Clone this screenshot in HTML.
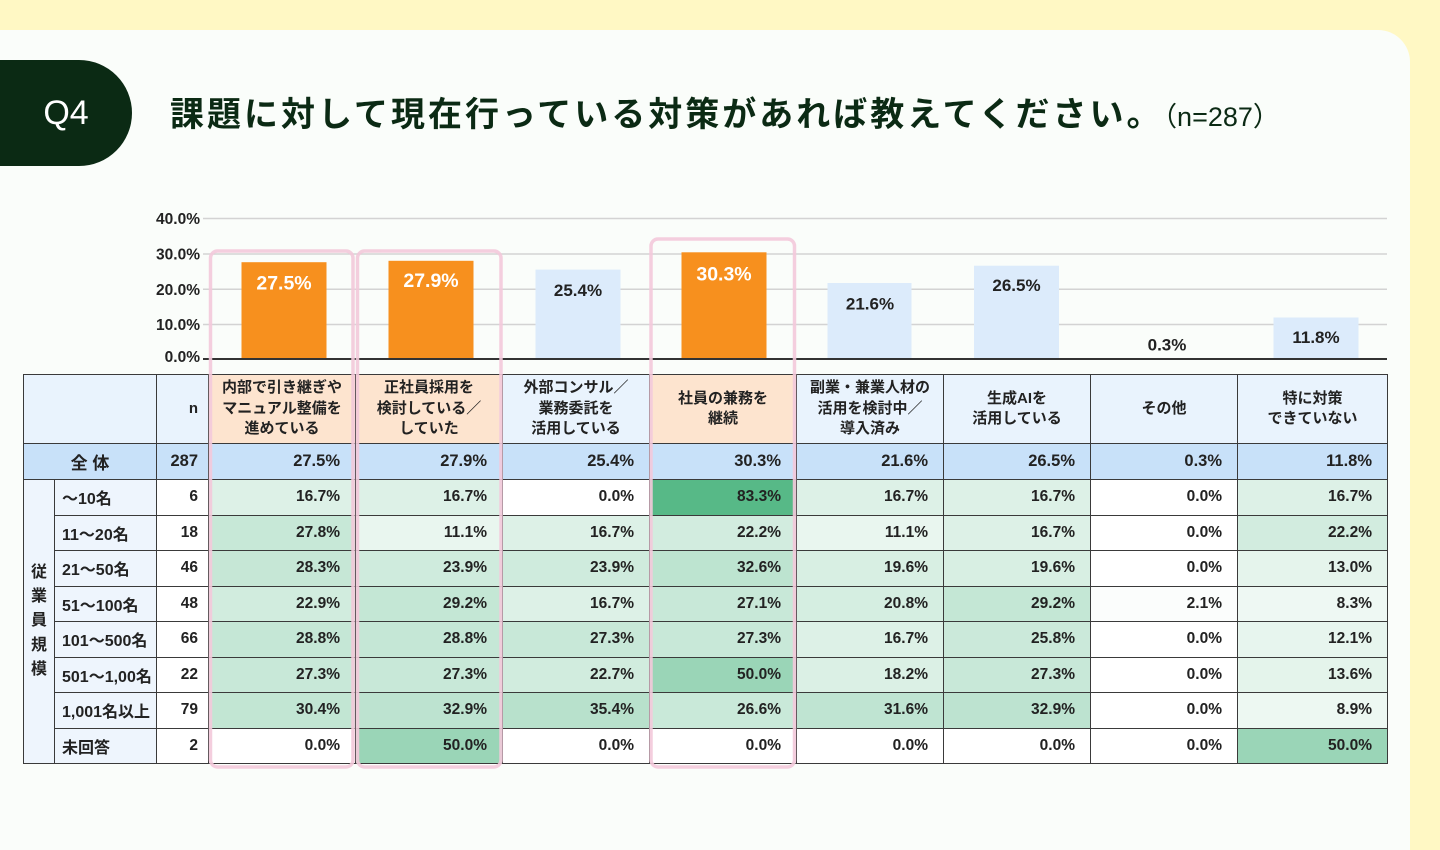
<!DOCTYPE html>
<html><head><meta charset="utf-8">
<style>
*{margin:0;padding:0;box-sizing:border-box}
html,body{width:1440px;height:798px;overflow:hidden;background:#fff8c4;font-family:"Liberation Sans","Noto Sans CJK JP",sans-serif;color:#222;}
.card{position:absolute;left:-40px;top:30px;width:1450px;height:820px;background:#fafdfa;border-radius:0 32px 0 0;}
.pill{position:absolute;left:-60px;top:60px;width:192px;height:106px;background:#0b2a14;border-radius:53px;}
.q{position:absolute;left:0;top:60px;width:132px;height:106px;line-height:106px;text-align:center;color:#fff;font-size:34px;font-family:"Liberation Sans",sans-serif;}
.title{position:absolute;left:170px;top:97px;font-family:"Liberation Sans","Noto Sans CJK JP",sans-serif;font-size:34px;line-height:36px;letter-spacing:3px;color:#0b2a14;font-weight:bold;white-space:nowrap;}
.title span{font-size:27px;font-weight:normal;letter-spacing:0;}
table{position:absolute;left:23px;top:374px;border-collapse:collapse;table-layout:fixed;width:1364px;}
td{border:1px solid #3a3a3a;font-weight:bold;font-size:15.5px;padding:0;overflow:hidden;white-space:nowrap;}
tr.h td{height:69px;text-align:center;font-size:15px;line-height:20.5px;}
tr.all td{height:36px;background:#c8e1f9;font-size:16.5px;}
tr.r td{height:35.5px;}
.hb{background:#e9f3fd;}
.ho{background:#fde4cf;}
.v{text-align:right;padding-right:15px;}
.n{text-align:right;padding-right:10px;background:#fff;}
.lab{background:#eef5fd;padding-left:7px;font-size:16px;}
.grp{background:#eef5fd;text-align:center;font-size:16px;line-height:24.3px;}
svg{position:absolute;left:0;top:0;}
</style></head><body>
<div class="card"></div>
<div class="pill"></div>
<div class="q">Q4</div>
<div class="title">課題に対して現在行っている対策があれば教えてください。<span>（n=287）</span></div>

<table>
<colgroup><col style="width:31px"><col style="width:102px"><col style="width:52px"><col style="width:147px"><col style="width:147px"><col style="width:147px"><col style="width:147px"><col style="width:147px"><col style="width:147px"><col style="width:147px"><col style="width:150px"></colgroup>
<tr class="h">
<td class="hb" colspan="2"></td>
<td class="hb" style="text-align:right;padding-right:10px;">n</td>
<td class="ho">内部で引き継ぎや<br>マニュアル整備を<br>進めている</td>
<td class="ho">正社員採用を<br>検討している／<br>していた</td>
<td class="hb">外部コンサル／<br>業務委託を<br>活用している</td>
<td class="ho">社員の兼務を<br>継続</td>
<td class="hb">副業・兼業人材の<br>活用を検討中／<br>導入済み</td>
<td class="hb">生成AIを<br>活用している</td>
<td class="hb">その他</td>
<td class="hb">特に対策<br>できていない</td>
</tr>
<tr class="all">
<td colspan="2" style="text-align:center;font-size:17px;">全 体</td>
<td style="text-align:right;padding-right:10px;">287</td>
<td class="v">27.5%</td><td class="v">27.9%</td><td class="v">25.4%</td><td class="v">30.3%</td><td class="v">21.6%</td><td class="v">26.5%</td><td class="v">0.3%</td><td class="v">11.8%</td>
</tr>
<tr class="r">
<td class="grp" rowspan="8">従<br>業<br>員<br>規<br>模</td>
<td class="lab">～10名</td><td class="n">6</td>
<td class="v" style="background:#ddf1e7">16.7%</td>
<td class="v" style="background:#ddf1e7">16.7%</td>
<td class="v" style="background:#ffffff">0.0%</td>
<td class="v" style="background:#57b987">83.3%</td>
<td class="v" style="background:#ddf1e7">16.7%</td>
<td class="v" style="background:#ddf1e7">16.7%</td>
<td class="v" style="background:#ffffff">0.0%</td>
<td class="v" style="background:#ddf1e7">16.7%</td>
</tr>
<tr class="r">
<td class="lab">11～20名</td><td class="n">18</td>
<td class="v" style="background:#c7e8d7">27.8%</td>
<td class="v" style="background:#e9f6ef">11.1%</td>
<td class="v" style="background:#ddf1e7">16.7%</td>
<td class="v" style="background:#d2ecdf">22.2%</td>
<td class="v" style="background:#e9f6ef">11.1%</td>
<td class="v" style="background:#ddf1e7">16.7%</td>
<td class="v" style="background:#ffffff">0.0%</td>
<td class="v" style="background:#d2ecdf">22.2%</td>
</tr>
<tr class="r">
<td class="lab">21～50名</td><td class="n">46</td>
<td class="v" style="background:#c6e7d6">28.3%</td>
<td class="v" style="background:#cfebdd">23.9%</td>
<td class="v" style="background:#cfebdd">23.9%</td>
<td class="v" style="background:#bde4d0">32.6%</td>
<td class="v" style="background:#d8efe3">19.6%</td>
<td class="v" style="background:#d8efe3">19.6%</td>
<td class="v" style="background:#ffffff">0.0%</td>
<td class="v" style="background:#e5f4ec">13.0%</td>
</tr>
<tr class="r">
<td class="lab">51～100名</td><td class="n">48</td>
<td class="v" style="background:#d1ecde">22.9%</td>
<td class="v" style="background:#c4e7d5">29.2%</td>
<td class="v" style="background:#ddf1e7">16.7%</td>
<td class="v" style="background:#c8e8d8">27.1%</td>
<td class="v" style="background:#d5eee1">20.8%</td>
<td class="v" style="background:#c4e7d5">29.2%</td>
<td class="v" style="background:#fbfdfc">2.1%</td>
<td class="v" style="background:#eef8f3">8.3%</td>
</tr>
<tr class="r">
<td class="lab">101～500名</td><td class="n">66</td>
<td class="v" style="background:#c5e7d6">28.8%</td>
<td class="v" style="background:#c5e7d6">28.8%</td>
<td class="v" style="background:#c8e8d8">27.3%</td>
<td class="v" style="background:#c8e8d8">27.3%</td>
<td class="v" style="background:#ddf1e7">16.7%</td>
<td class="v" style="background:#cbe9da">25.8%</td>
<td class="v" style="background:#ffffff">0.0%</td>
<td class="v" style="background:#e7f5ee">12.1%</td>
</tr>
<tr class="r">
<td class="lab">501～1,00名</td><td class="n">22</td>
<td class="v" style="background:#c8e8d8">27.3%</td>
<td class="v" style="background:#c8e8d8">27.3%</td>
<td class="v" style="background:#d1ecde">22.7%</td>
<td class="v" style="background:#9ad5b7">50.0%</td>
<td class="v" style="background:#dbf0e5">18.2%</td>
<td class="v" style="background:#c8e8d8">27.3%</td>
<td class="v" style="background:#ffffff">0.0%</td>
<td class="v" style="background:#e4f4eb">13.6%</td>
</tr>
<tr class="r">
<td class="lab">1,001名以上</td><td class="n">79</td>
<td class="v" style="background:#c2e6d3">30.4%</td>
<td class="v" style="background:#bde3d0">32.9%</td>
<td class="v" style="background:#b8e1cc">35.4%</td>
<td class="v" style="background:#c9e9d9">26.6%</td>
<td class="v" style="background:#bfe4d2">31.6%</td>
<td class="v" style="background:#bde3d0">32.9%</td>
<td class="v" style="background:#ffffff">0.0%</td>
<td class="v" style="background:#edf8f2">8.9%</td>
</tr>
<tr class="r">
<td class="lab">未回答</td><td class="n">2</td>
<td class="v" style="background:#ffffff">0.0%</td>
<td class="v" style="background:#9ad5b7">50.0%</td>
<td class="v" style="background:#ffffff">0.0%</td>
<td class="v" style="background:#ffffff">0.0%</td>
<td class="v" style="background:#ffffff">0.0%</td>
<td class="v" style="background:#ffffff">0.0%</td>
<td class="v" style="background:#ffffff">0.0%</td>
<td class="v" style="background:#9ad5b7">50.0%</td>
</tr>
</table>

<svg width="1440" height="798" viewBox="0 0 1440 798" xmlns="http://www.w3.org/2000/svg" font-family="Liberation Sans, sans-serif" font-weight="bold">
<g stroke="#d3d3d3" stroke-width="1.5">
<line x1="203" y1="218.5" x2="1387" y2="218.5"/>
<line x1="203" y1="254" x2="1387" y2="254"/>
<line x1="203" y1="289.3" x2="1387" y2="289.3"/>
<line x1="203" y1="324.5" x2="1387" y2="324.5"/>
</g>
<g font-size="15.5" fill="#222" text-anchor="end">
<text x="200" y="224">40.0%</text>
<text x="200" y="259.5">30.0%</text>
<text x="200" y="295">20.0%</text>
<text x="200" y="330">10.0%</text>
<text x="200" y="362">0.0%</text>
</g>
<g>
<rect x="241.5" y="262.2" width="85" height="96.8" fill="#f7901e"/>
<rect x="388.5" y="260.8" width="85" height="98.2" fill="#f7901e"/>
<rect x="535.5" y="269.6" width="85" height="89.4" fill="#dcebfb"/>
<rect x="681.5" y="252.3" width="85" height="106.7" fill="#f7901e"/>
<rect x="827.5" y="283" width="84" height="76" fill="#dcebfb"/>
<rect x="974" y="265.7" width="85" height="93.3" fill="#dcebfb"/>
<rect x="1120.5" y="358" width="85" height="1" fill="#dcebfb"/>
<rect x="1273.5" y="317.5" width="85" height="41.5" fill="#dcebfb"/>
</g>
<line x1="203" y1="359" x2="1387" y2="359" stroke="#333" stroke-width="2"/>
<g text-anchor="middle">
<text x="284" y="289.5" font-size="19.5" fill="#fff">27.5%</text>
<text x="431" y="287" font-size="19.5" fill="#fff">27.9%</text>
<text x="578" y="296" font-size="17" fill="#222">25.4%</text>
<text x="724" y="280.5" font-size="19.5" fill="#fff">30.3%</text>
<text x="870" y="309.5" font-size="17" fill="#222">21.6%</text>
<text x="1016.5" y="291" font-size="17" fill="#222">26.5%</text>
<text x="1167" y="350.5" font-size="17" fill="#222">0.3%</text>
<text x="1316" y="343" font-size="17" fill="#222">11.8%</text>
</g>
<g fill="none" stroke="#f3c9da" stroke-width="3.5" opacity="0.9">
<rect x="210.5" y="251" width="142.5" height="516" rx="7"/>
<rect x="357.5" y="251" width="143.5" height="516" rx="7"/>
<rect x="651" y="239" width="143.5" height="528" rx="7"/>
</g>
</svg>
</body></html>
